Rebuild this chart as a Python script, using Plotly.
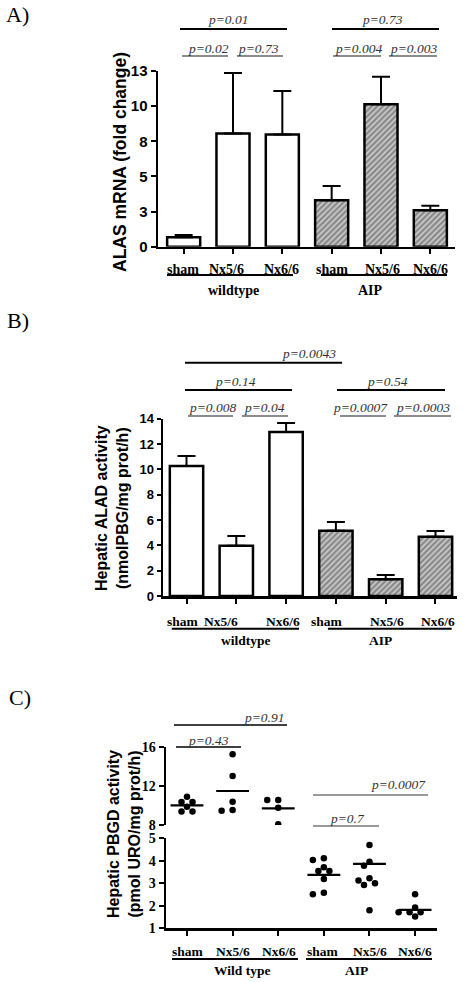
import plotly.graph_objects as go

W, H = 464, 982

# ---------------- data ----------------
categories = ["sham", "Nx5/6", "Nx6/6", "sham", "Nx5/6", "Nx6/6"]
groups_AB = ["wildtype", "AIP"]
groups_C = ["Wild type", "AIP"]

# Panel A: ALAS mRNA (fold change)
alas_mean = [0.67, 8.06, 7.99, 3.30, 10.13, 2.59]
alas_sem = [0.16, 4.29, 3.08, 1.02, 1.96, 0.33]
alas_tickvals = [0, 2.5, 5, 7.5, 10, 12.5]
alas_ticktext = ["0", "3", "5", "8", "10", "13"]

# Panel B: Hepatic ALAD activity
alad_mean = [10.27, 3.97, 12.95, 5.16, 1.32, 4.69]
alad_sem = [0.79, 0.77, 0.72, 0.69, 0.34, 0.45]
alad_tickvals = [0, 2, 4, 6, 8, 10, 12, 14]

# Panel C: Hepatic PBGD activity (individual animals)
pbgd_wt_sham = [10.91, 10.37, 10.37, 9.88, 9.39, 9.39]
pbgd_wt_nx56 = [15.28, 13.04, 10.40, 9.54, 9.47]
pbgd_wt_nx66 = [10.57, 10.57, 9.78, 8.07]
pbgd_aip_sham = [4.11, 4.04, 3.71, 3.55, 3.55, 3.19, 2.58, 2.51]
pbgd_aip_nx56 = [4.70, 3.96, 3.78, 3.22, 3.12, 3.00, 2.92, 1.80]
pbgd_aip_nx66 = [2.51, 1.92, 1.71, 1.71, 1.71, 1.52]
pbgd_center = [10.03, 11.5, 9.72, 3.37, 3.86, 1.82]
pbgd_top_ticks = [8, 12, 16]
pbgd_bot_ticks = [1, 2, 3, 4, 5]

# p-values
p_A_top = ["p=0.01", "p=0.73"]
p_A_pair = ["p=0.02", "p=0.73", "p=0.004", "p=0.003"]
p_B_top = ["p=0.0043"]
p_B_mid = ["p=0.14", "p=0.54"]
p_B_pair = ["p=0.008", "p=0.04", "p=0.0007", "p=0.0003"]
p_C = ["p=0.91", "p=0.43", "p=0.0007", "p=0.7"]

# ---------------- layout constants ----------------
SANS = "Liberation Sans, Arial, sans-serif"
SERIF = "Liberation Serif, Times New Roman, serif"
xs = list(range(len(categories)))

A_x = (158, 455, -0.52, 5.50)
A_y = (246.7, 71.0, 0, 12.5)
B_x = (163, 457, -0.472, 5.432)
B_y = (596.0, 418.8, 0, 14)
C_x = (166, 437, -0.46, 5.48)
C_ybot = (928.3, 838.3, 1, 5)
C_ytop = (825.0, 747.3, 8, 16)


def xdom(a):
    return [a[0] / W, a[1] / W]


def ydom(a):
    return [1 - a[0] / H, 1 - a[1] / H]


fig = go.Figure()

fill_colors = ["white"] * 3 + ["#cfcfcf"] * 3
shapes_pat = ["", "", "", "/", "/", "/"]


def bar_trace(vals, errs, xa, ya):
    return go.Bar(
        x=xs, y=vals, xaxis=xa, yaxis=ya, width=0.67,
        marker=dict(
            color=fill_colors,
            line=dict(color="black", width=2.5),
            pattern=dict(shape=shapes_pat, fgcolor="#0a0a0a",
                         bgcolor=fill_colors, size=4, solidity=0.62),
        ),
        error_y=dict(type="data", array=errs, arrayminus=[0] * len(errs),
                     symmetric=False, color="black", thickness=2, width=9),
        showlegend=False, hoverinfo="skip",
    )


fig.add_trace(bar_trace(alas_mean, alas_sem, "x", "y"))
fig.add_trace(bar_trace(alad_mean, alad_sem, "x2", "y2"))

# ---- panel C scatter with simple beeswarm ----
ppu_x = (C_x[1] - C_x[0]) / (C_x[3] - C_x[2])
ppu_top = (C_ytop[0] - C_ytop[1]) / (C_ytop[3] - C_ytop[2])
ppu_bot = (C_ybot[0] - C_ybot[1]) / (C_ybot[3] - C_ybot[2])


def swarm(values, ppu_y, diam=6.5, step=5.5):
    placed, offs = [], []
    cands = [0.0]
    for j in range(1, 20):
        cands += [-j * step, j * step]
    for v in values:
        y = v * ppu_y
        for c in cands:
            if all((c - px) ** 2 + (y - py) ** 2 >= diam ** 2 for px, py in placed):
                break
        placed.append((c, y))
        offs.append(c / ppu_x)
    return offs


pbgd_groups = [pbgd_wt_sham, pbgd_wt_nx56, pbgd_wt_nx66,
               pbgd_aip_sham, pbgd_aip_nx56, pbgd_aip_nx66]
for i, vals in enumerate(pbgd_groups):
    top = i < 3
    ya = "y4" if top else "y3"
    offs = swarm(vals, ppu_top if top else ppu_bot)
    fig.add_trace(go.Scatter(
        x=[i + o for o in offs], y=vals, xaxis="x3", yaxis=ya, mode="markers",
        marker=dict(color="black", size=6.5), showlegend=False, hoverinfo="skip"))
    fig.add_trace(go.Scatter(
        x=[i - 0.36, i + 0.36], y=[pbgd_center[i]] * 2, xaxis="x3", yaxis=ya,
        mode="lines", line=dict(color="black", width=2.2),
        showlegend=False, hoverinfo="skip"))

# ---------------- axes ----------------
base_x = dict(showline=True, linecolor="black", linewidth=2.5, ticks="outside",
              ticklen=5, tickwidth=2, tickcolor="black", showgrid=False,
              zeroline=False, showticklabels=False, tickvals=xs, fixedrange=True)
base_y = dict(showline=True, linecolor="black", linewidth=2.5, ticks="outside",
              ticklen=5, tickwidth=2, tickcolor="black", showgrid=False,
              zeroline=False, fixedrange=True)

fig.update_layout(
    width=W, height=H, autosize=False,
    margin=dict(l=0, r=0, t=0, b=0, pad=0, autoexpand=False),
    paper_bgcolor="white", plot_bgcolor="white",
    barmode="overlay",
    xaxis=dict(base_x, domain=xdom(A_x), range=[A_x[2], A_x[3]], anchor="y"),
    yaxis=dict(base_y, domain=ydom(A_y), range=[A_y[2], A_y[3]], anchor="x",
               tickvals=alas_tickvals, ticktext=alas_ticktext,
               tickfont=dict(family=SANS, size=15, color="black", weight="bold")),
    xaxis2=dict(base_x, domain=xdom(B_x), range=[B_x[2], B_x[3]], anchor="y2"),
    yaxis2=dict(base_y, domain=ydom(B_y), range=[B_y[2], B_y[3]], anchor="x2",
                tickvals=alad_tickvals, ticklen=4,
                tickfont=dict(family=SANS, size=13, color="black", weight="bold")),
    xaxis3=dict(base_x, domain=xdom(C_x), range=[C_x[2], C_x[3]], anchor="y3"),
    yaxis3=dict(base_y, domain=ydom(C_ybot), range=[C_ybot[2], C_ybot[3]],
                anchor="x3", tickvals=pbgd_bot_ticks,
                tickfont=dict(family=SERIF, size=14, color="black", weight="bold")),
    yaxis4=dict(base_y, domain=ydom(C_ytop), range=[C_ytop[2], C_ytop[3]],
                anchor="x3", tickvals=pbgd_top_ticks,
                tickfont=dict(family=SERIF, size=14, color="black", weight="bold")),
)


# ---------------- decorations ----------------
def hline(x0, x1, y, color="black", width=2.0):
    fig.add_shape(type="line", xref="paper", yref="paper",
                  x0=x0 / W, x1=x1 / W, y0=1 - y / H, y1=1 - y / H,
                  line=dict(color=color, width=width))


def label(s, x, y, size, family, color="black", angle=0):
    fig.add_annotation(text=s, x=x / W, y=1 - y / H, xref="paper", yref="paper",
                       showarrow=False, xanchor="center", yanchor="middle",
                       textangle=angle,
                       font=dict(family=family, size=size, color=color))


def pval(s, x, y):
    label("<i>" + s + "</i>", x, y, 13.5, SERIF, color="#333333")


# panel letters
label("A)", 17, 15, 22, SERIF)
label("B)", 17.5, 320, 22, SERIF)
label("C)", 19.5, 697, 22, SERIF)

# y-axis titles
label("<b>ALAS mRNA (fold change)</b>", 120, 162, 17.5, SANS, angle=-90)
label("<b>Hepatic ALAD activity<br>(nmolPBG/mg prot/h)</b>", 112, 508, 16, SANS, angle=-90)
label("<b>Hepatic PBGD activity<br>(pmol URO/mg prot/h)</b>", 124, 834, 16, SANS, angle=-90)

# category + group labels
cat_px = {
    "A": ([182.5, 226, 281, 331.5, 382, 430], 269, 275, 290,
          [(167, 293), (321, 447)], [233, 370], groups_AB, 14),
    "B": ([183.3, 220.7, 283.3, 327, 387, 438], 621, 628.7, 640,
          [(171.7, 299), (328, 451.7)], [246, 380], groups_AB, 13.5),
    "C": ([188, 233, 279, 323, 370, 415], 951.7, 959, 970.7,
          [(172, 298), (306, 432)], [241.7, 356.7], groups_C, 13.5),
}
for key, (xpos, ycat, yline, ygrp, spans, gpos, gnames, fs) in cat_px.items():
    for c, xp in zip(categories, xpos):
        label("<b>" + c + "</b>", xp, ycat, fs, SERIF)
    for (a, b) in spans:
        hline(a, b, yline, width=2)
    for g, gp in zip(gnames, gpos):
        label("<b>" + g + "</b>", gp, ygrp, fs, SERIF)

# panel A p-values
for s, xc, (a, b) in zip(p_A_top, [228.5, 382], [(180, 287), (332, 439)]):
    pval(s, xc, 19)
    hline(a, b, 29, width=2)
for s, xc, (a, b) in zip(p_A_pair, [208, 258.5, 358, 413.5],
                         [(182, 228), (237, 283), (333, 381), (389, 437)]):
    pval(s, xc, 48)
    hline(a, b, 56, color="#666666", width=1.3)

# panel B p-values
pval(p_B_top[0], 309, 353)
hline(185, 342, 362.7, width=2)
for s, xc, (a, b) in zip(p_B_mid, [235, 387], [(185, 292), (337, 445)]):
    pval(s, xc, 381)
    hline(a, b, 390, width=2)
for s, xc, (a, b) in zip(p_B_pair, [212, 264.5, 360.7, 422.5],
                         [(188, 233), (242, 288), (340, 386), (394, 451)]):
    pval(s, xc, 408)
    hline(a, b, 416, color="#666666", width=1.3)

# panel C p-values
c_specs = [(264.7, 717, (174, 287), 725, "black"),
           (208.5, 740, (176, 241), 747, "black"),
           (398.5, 784, (313, 428), 795, "#777777"),
           (347.7, 818, (313, 379), 826, "#777777")]
for s, (xc, yt, (a, b), yl, col) in zip(p_C, c_specs):
    pval(s, xc, yt)
    hline(a, b, yl, color=col, width=1.5)

fig.write_html(
    "out.html",
    config={"displayModeBar": False, "staticPlot": True},
    post_script="document.body.style.margin='0px';"
                "document.body.style.overflow='hidden';",
)
